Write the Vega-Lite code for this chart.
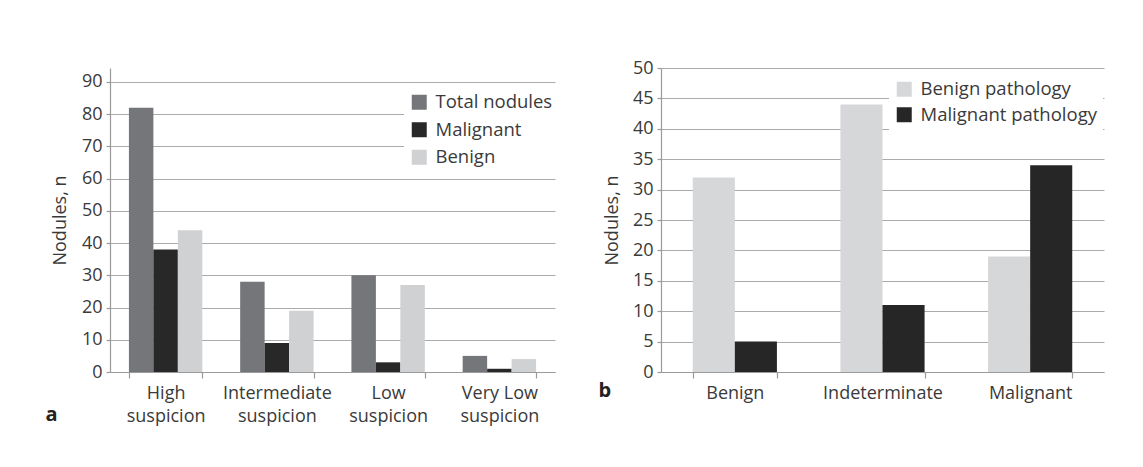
{
  "$schema": "https://vega.github.io/schema/vega-lite/v6.json",
  "padding": {"left": 45, "top": 59, "right": 10, "bottom": 10},
  "background": "white",
  "datasets": {
    "panelA": [
      {"cat": "High suspicion", "series": "Total nodules", "n": 82},
      {"cat": "High suspicion", "series": "Malignant", "n": 38},
      {"cat": "High suspicion", "series": "Benign", "n": 44},
      {"cat": "Intermediate suspicion", "series": "Total nodules", "n": 28},
      {"cat": "Intermediate suspicion", "series": "Malignant", "n": 9},
      {"cat": "Intermediate suspicion", "series": "Benign", "n": 19},
      {"cat": "Low suspicion", "series": "Total nodules", "n": 30},
      {"cat": "Low suspicion", "series": "Malignant", "n": 3},
      {"cat": "Low suspicion", "series": "Benign", "n": 27},
      {"cat": "Very Low suspicion", "series": "Total nodules", "n": 5},
      {"cat": "Very Low suspicion", "series": "Malignant", "n": 1},
      {"cat": "Very Low suspicion", "series": "Benign", "n": 4}
    ],
    "panelB": [
      {"cat": "Benign", "series": "Benign pathology", "n": 32},
      {"cat": "Benign", "series": "Malignant pathology", "n": 5},
      {"cat": "Indeterminate", "series": "Benign pathology", "n": 44},
      {"cat": "Indeterminate", "series": "Malignant pathology", "n": 11},
      {"cat": "Malignant", "series": "Benign pathology", "n": 19},
      {"cat": "Malignant", "series": "Malignant pathology", "n": 34}
    ]
  },
  "spacing": 39,
  "resolve": {
    "scale": {"x": "independent", "y": "independent", "xOffset": "independent", "color": "independent"},
    "legend": {"color": "independent"}
  },
  "config": {
    "font": "Open Sans",
    "view": {"stroke": null},
    "axis": {
      "labelFont": "Open Sans",
      "titleFont": "Open Sans",
      "labelColor": "#3a3a3a",
      "titleColor": "#3a3a3a",
      "labelFontSize": 18,
      "titleFontSize": 18,
      "titleFontWeight": "normal",
      "domainColor": "#9a9a9a",
      "tickColor": "#9a9a9a",
      "gridColor": "#ababab",
      "domainWidth": 1.2,
      "tickWidth": 1.2,
      "gridWidth": 1.2
    },
    "legend": {
      "labelFont": "Open Sans",
      "labelFontSize": 18.5,
      "labelColor": "#3a3a3a",
      "labelLimit": 400,
      "symbolType": "square",
      "symbolSize": 225,
      "symbolStrokeWidth": 0,
      "fillColor": "white",
      "padding": 6,
      "labelOffset": 7
    }
  },
  "hconcat": [
    {
      "width": 445,
      "height": 304,
      "data": {"name": "panelA"},
      "mark": {"type": "bar"},
      "encoding": {
        "x": {
          "field": "cat",
          "type": "nominal",
          "sort": ["High suspicion", "Intermediate suspicion", "Low suspicion", "Very Low suspicion"],
          "scale": {"paddingInner": 0.34, "paddingOuter": 0.17},
          "axis": {
            "title": "a",
            "titleFontWeight": "bold",
            "titleFontSize": 20,
            "titleColor": "#222222",
            "titleAnchor": "start",
            "titleAlign": "left",
            "titleBaseline": "alphabetic",
            "titleX": -65,
            "titleY": 48,
            "labelAngle": 0,
            "labelPadding": 6,
            "labelLineHeight": 23,
            "labelExpr": "datum.label == 'Very Low suspicion' ? ['Very Low', 'suspicion'] : split(datum.label, ' ')",
            "tickBand": "extent",
            "tickSize": 6,
            "grid": false
          }
        },
        "xOffset": {"field": "series", "sort": ["Total nodules", "Malignant", "Benign"]},
        "y": {
          "field": "n",
          "type": "quantitative",
          "scale": {"domain": [0, 94.3], "nice": false},
          "axis": {
            "values": [0, 10, 20, 30, 40, 50, 60, 70, 80, 90],
            "title": "Nodules, n",
            "titlePadding": 12,
            "tickSize": 4,
            "labelPadding": 4,
            "grid": true
          }
        },
        "color": {
          "field": "series",
          "type": "nominal",
          "scale": {"domain": ["Total nodules", "Malignant", "Benign"], "range": ["#75767a", "#282828", "#d0d1d3"]},
          "legend": {"title": null, "orient": "none", "legendX": 294, "legendY": 19, "rowPadding": 8.5}
        }
      }
    },
    {
      "width": 443,
      "height": 304,
      "data": {"name": "panelB"},
      "mark": {"type": "bar"},
      "encoding": {
        "x": {
          "field": "cat",
          "type": "nominal",
          "sort": ["Benign", "Indeterminate", "Malignant"],
          "scale": {"paddingInner": 0.43, "paddingOuter": 0.215},
          "axis": {
            "title": "b",
            "titleFontWeight": "bold",
            "titleFontSize": 20,
            "titleColor": "#222222",
            "titleAnchor": "start",
            "titleAlign": "left",
            "titleBaseline": "alphabetic",
            "titleX": -63,
            "titleY": 24,
            "labelAngle": 0,
            "labelPadding": 6,
            "tickBand": "extent",
            "tickSize": 6,
            "grid": false
          }
        },
        "xOffset": {"field": "series", "sort": ["Benign pathology", "Malignant pathology"]},
        "y": {
          "field": "n",
          "type": "quantitative",
          "scale": {"domain": [0, 50], "nice": false},
          "axis": {
            "values": [0, 5, 10, 15, 20, 25, 30, 35, 40, 45, 50],
            "title": "Nodules, n",
            "titlePadding": 11,
            "tickSize": 4,
            "labelPadding": 4,
            "grid": true
          }
        },
        "color": {
          "field": "series",
          "type": "nominal",
          "scale": {"domain": ["Benign pathology", "Malignant pathology"], "range": ["#d6d7d9", "#262626"]},
          "legend": {"title": null, "orient": "none", "legendX": 228, "legendY": 6, "rowPadding": 6.5}
        }
      }
    }
  ]
}
